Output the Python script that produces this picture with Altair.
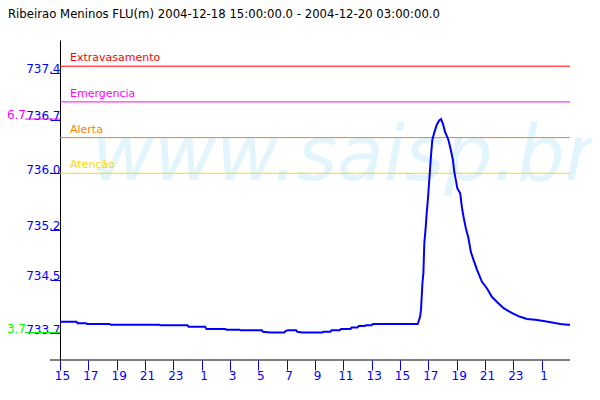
import altair as alt
import pandas as pd

TITLE = "Ribeirao Meninos FLU(m) 2004-12-18 15:00:00.0 - 2004-12-20 03:00:00.0"
WATERMARK = "www.saisp.br"
START = "2004-12-18 15:00"
END = "2004-12-20 03:00"

times = [
    "2004-12-18 15:00", "2004-12-18 16:10", "2004-12-18 16:15", "2004-12-18 16:50",
    "2004-12-18 16:55", "2004-12-18 18:30", "2004-12-18 18:35", "2004-12-18 22:00",
    "2004-12-18 22:05", "2004-12-19 00:00", "2004-12-19 00:05", "2004-12-19 01:15",
    "2004-12-19 01:20", "2004-12-19 02:40", "2004-12-19 02:45", "2004-12-19 03:40",
    "2004-12-19 03:45", "2004-12-19 05:15", "2004-12-19 05:20", "2004-12-19 05:50",
    "2004-12-19 06:50", "2004-12-19 06:55", "2004-12-19 07:05", "2004-12-19 07:40",
    "2004-12-19 07:45", "2004-12-19 08:05", "2004-12-19 09:30", "2004-12-19 09:35",
    "2004-12-19 10:05", "2004-12-19 10:10", "2004-12-19 10:45", "2004-12-19 10:50",
    "2004-12-19 11:30", "2004-12-19 11:35", "2004-12-19 12:00", "2004-12-19 12:05",
    "2004-12-19 12:30", "2004-12-19 12:35", "2004-12-19 13:00", "2004-12-19 13:05",
    "2004-12-19 16:15", "2004-12-19 16:25", "2004-12-19 16:29", "2004-12-19 16:35",
    "2004-12-19 16:39", "2004-12-19 16:43", "2004-12-19 16:49", "2004-12-19 16:53",
    "2004-12-19 16:58", "2004-12-19 17:03", "2004-12-19 17:08", "2004-12-19 17:12",
    "2004-12-19 17:17", "2004-12-19 17:26", "2004-12-19 17:36", "2004-12-19 17:46",
    "2004-12-19 17:54", "2004-12-19 18:01", "2004-12-19 18:11", "2004-12-19 18:25",
    "2004-12-19 18:35", "2004-12-19 18:44", "2004-12-19 18:50", "2004-12-19 18:58",
    "2004-12-19 19:03", "2004-12-19 19:15", "2004-12-19 19:22", "2004-12-19 19:29",
    "2004-12-19 19:39", "2004-12-19 19:50", "2004-12-19 20:00", "2004-12-19 20:11",
    "2004-12-19 20:26", "2004-12-19 20:47", "2004-12-19 21:08", "2004-12-19 21:29",
    "2004-12-19 21:50", "2004-12-19 22:19", "2004-12-19 22:40", "2004-12-19 23:01",
    "2004-12-19 23:29", "2004-12-19 23:58", "2004-12-20 00:33", "2004-12-20 01:08",
    "2004-12-20 01:44", "2004-12-20 02:19", "2004-12-20 02:50", "2004-12-20 03:00",
]
levels = [
    733.92, 733.92, 733.90, 733.90,
    733.89, 733.89, 733.88, 733.88,
    733.87, 733.87, 733.85, 733.85,
    733.82, 733.82, 733.81, 733.81,
    733.80, 733.80, 733.78, 733.77,
    733.77, 733.79, 733.80, 733.80,
    733.78, 733.77, 733.77, 733.78,
    733.78, 733.80, 733.80, 733.82,
    733.82, 733.84, 733.84, 733.86,
    733.86, 733.87, 733.87, 733.89,
    733.89, 733.99, 734.09, 734.46,
    734.60, 735.02, 735.25, 735.44,
    735.63, 735.86, 736.09, 736.28,
    736.47, 736.58, 736.68, 736.74,
    736.76, 736.70, 736.58, 736.47,
    736.33, 736.19, 736.02, 735.88,
    735.79, 735.72, 735.53, 735.39,
    735.23, 735.09, 734.90, 734.79,
    734.65, 734.48, 734.39, 734.27,
    734.20, 734.11, 734.07, 734.03,
    733.99, 733.96, 733.95, 733.93,
    733.91, 733.89, 733.88, 733.88,
]

threshold_names = ["Extravasamento", "Emergencia", "Alerta", "Atenção"]
threshold_values = [737.5, 737.0, 736.5, 736.0]
threshold_colors = ["#ff0000", "#ff00ff", "#ff8000", "#ffd700"]

y_ticks = [733.76, 734.51, 735.21, 736.0, 736.75, 737.41]
y_domain = [733.385, 737.867]
x_ticks = list(range(0, 35, 2))  # hours after START

FONT = "DejaVu Sans"
W, H = 510, 320

t0 = pd.Timestamp(START)
span = (pd.Timestamp(END) - t0) / pd.Timedelta(hours=1)
df = pd.DataFrame({
    "hours": [(pd.Timestamp(t) - t0) / pd.Timedelta(hours=1) for t in times],
    "level": levels,
})
thr = pd.DataFrame({"name": threshold_names, "value": threshold_values})

yscale = alt.Scale(domain=y_domain, nice=False, zero=False)
xscale = alt.Scale(domain=[0, span], nice=False, zero=False)

watermark = alt.Chart(pd.DataFrame({"t": [WATERMARK]})).mark_text(
    font=FONT, fontSize=76, fontStyle="italic", color="#e2f5fd",
    align="center", baseline="alphabetic",
).encode(text="t:N", x=alt.value(284), y=alt.value(140))

title = alt.Chart(pd.DataFrame({"t": [TITLE]})).mark_text(
    font=FONT, fontSize=11.7, color="black", align="left", baseline="alphabetic",
).encode(text="t:N", x=alt.value(-52), y=alt.value(-22))

thr_color = alt.Color("name:N", scale=alt.Scale(domain=threshold_names, range=threshold_colors), legend=None)

thr_lines = alt.Chart(thr).mark_rule(strokeWidth=1).encode(
    y=alt.Y("value:Q", scale=yscale), x=alt.value(0), x2=alt.value(W), color=thr_color,
)
thr_text = alt.Chart(thr).mark_text(
    font=FONT, fontSize=11, align="left", baseline="alphabetic", dy=-5,
).encode(y=alt.Y("value:Q", scale=yscale), x=alt.value(10), text="name:N", color=thr_color)

line = alt.Chart(df).mark_line(color="#0000ff", strokeWidth=2).encode(
    x=alt.X("hours:Q", scale=xscale, axis=alt.Axis(
        values=x_ticks, labelExpr="'' + ((15 + datum.value) % 24)",
        tickColor="#0000ff", labelColor="#0000ff", tickSize=10, domain=False,
        labelBaseline="top", labelPadding=0, labelAlign="center", labelOffset=2,
        labelFlush=False, labelOverlap=False, grid=False, title=None,
        labelFont=FONT, labelFontSize=12)),
    y=alt.Y("level:Q", scale=yscale, axis=alt.Axis(
        values=y_ticks, labelExpr="format(floor(datum.value*10+1e-6)/10, '.1f')",
        tickColor="#0000ff", labelColor="#0000ff", tickSize=10, domainColor="black",
        labelBaseline="alphabetic", labelPadding=-10, labelAlign="right",
        labelFlush=False, labelOverlap=False, grid=False, title=None,
        labelFont=FONT, labelFontSize=12)),
)

def extreme(op, color):
    fld = f"v_{op}"
    lab = f"lab_{op}"
    base = alt.Chart(df).transform_aggregate(**{fld: f"{op}(level)"})
    r = base.mark_rule(color=color, strokeWidth=1).encode(
        y=alt.Y(f"{fld}:Q", scale=yscale), x=alt.value(-35), x2=alt.value(0))
    t = base.transform_calculate(
        **{lab: f"format(floor(datum.{fld}*10+1e-6)/10, '.1f')"}
    ).mark_text(font=FONT, fontSize=12, color=color, align="right", baseline="alphabetic").encode(
        y=alt.Y(f"{fld}:Q", scale=yscale), x=alt.value(-34), text=f"{lab}:N")
    return r + t

xaxis_line = alt.Chart(pd.DataFrame({"a": [0]})).mark_rule(color="black", strokeWidth=1).encode(
    x=alt.value(-10), x2=alt.value(W), y=alt.value(H))

chart = alt.layer(
    watermark, thr_lines, thr_text, line, extreme("max", "#ff00ff"), extreme("min", "#00ff00"),
    xaxis_line, title,
).properties(
    width=W, height=H,
    background="white",
    autosize=alt.AutoSizeParams(type="none"),
    padding={"left": 52, "top": 32, "right": 22, "bottom": 32},
).configure_view(stroke=None)

chart.save("out.html", embed_options={"renderer": "svg", "actions": False})
